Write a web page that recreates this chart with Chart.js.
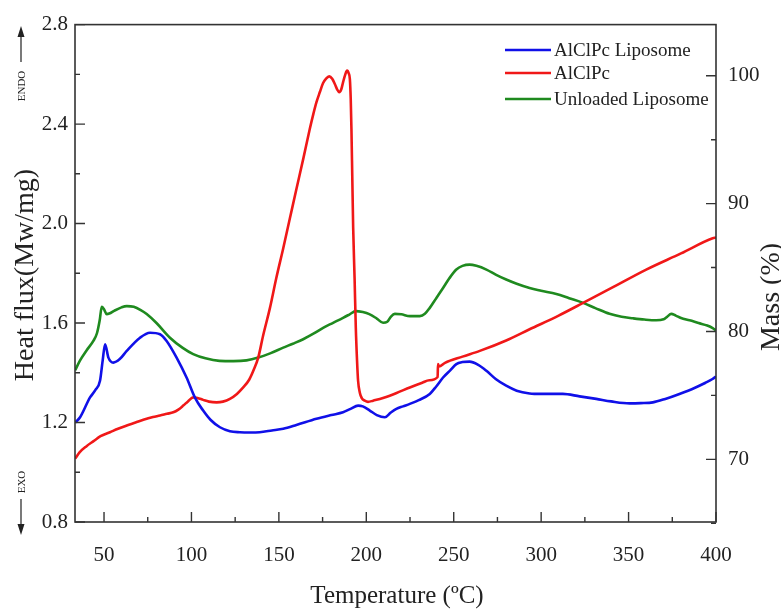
<!DOCTYPE html>
<html>
<head>
<meta charset="utf-8">
<script src="https://cdn.jsdelivr.net/npm/chart.js@4"></script>
<style>
  html, body { margin: 0; padding: 0; background: #fff; }
</style>
</head>
<body>
<canvas id="dscChart" width="781" height="609"></canvas>
<script>
// temperatures (ºC) and heat flux (Mw/mg)
const liposomeT = [33.5, 36.3, 42, 45, 47.7, 49.2, 50.6, 52.5, 55.3, 59, 63, 70.6, 76.3, 82, 85.8, 91.5, 97.2, 102, 106.7, 111, 116.3, 122, 127.7, 133.4, 139, 146, 152.5, 160, 171.5, 180, 186.7, 191, 195.3, 198, 202, 206, 210.6, 214, 217.2, 221, 224.9, 230, 236.3, 240, 243.9, 248, 251.5, 255, 259.1, 264, 268.7, 274, 280, 286, 293.4, 300, 312.4, 322, 331.5, 340, 350.6, 357, 363.9, 371, 379.1, 388, 394, 398, 400];
const liposomeV = [1.20, 1.221, 1.301, 1.33, 1.368, 1.448, 1.515, 1.461, 1.441, 1.455, 1.488, 1.541, 1.561, 1.555, 1.528, 1.461, 1.381, 1.30, 1.248, 1.21, 1.181, 1.165, 1.161, 1.16, 1.161, 1.168, 1.175, 1.19, 1.215, 1.23, 1.241, 1.255, 1.268, 1.265, 1.248, 1.23, 1.221, 1.24, 1.255, 1.265, 1.275, 1.29, 1.315, 1.345, 1.381, 1.41, 1.435, 1.443, 1.445, 1.432, 1.408, 1.375, 1.348, 1.328, 1.317, 1.315, 1.315, 1.305, 1.295, 1.285, 1.277, 1.278, 1.281, 1.295, 1.315, 1.34, 1.36, 1.375, 1.385];

const alclpcT = [33.5, 36, 40, 44, 48, 53.4, 58, 63, 68, 72.5, 78, 82, 86, 89.6, 92.5, 95.3, 98, 101, 103.5, 106.7, 110, 114.4, 118, 122, 126, 129.6, 133, 135.5, 138.2, 141, 144.9, 148.5, 152.5, 156.3, 160.1, 164, 167.7, 169.7, 171.5, 173.5, 175.3, 177, 178.8, 180.5, 182, 183.3, 184.5, 185.7, 186.7, 188, 189, 189.9, 190.6, 191.1, 191.5, 192, 192.5, 193.3, 194, 194.7, 195.3, 196.3, 197.5, 199.1, 201, 203.9, 210, 217, 224.9, 232, 236, 240.8, 241, 241.6, 245, 255, 264.9, 280, 293.4, 310, 324, 340, 360.1, 380, 398.1, 400];
const alclpcV = [1.055, 1.08, 1.105, 1.125, 1.145, 1.161, 1.175, 1.188, 1.20, 1.211, 1.222, 1.228, 1.235, 1.241, 1.252, 1.268, 1.285, 1.301, 1.299, 1.291, 1.284, 1.281, 1.284, 1.295, 1.315, 1.341, 1.372, 1.41, 1.461, 1.55, 1.661, 1.78, 1.901, 2.021, 2.141, 2.262, 2.381, 2.44, 2.488, 2.53, 2.565, 2.583, 2.592, 2.582, 2.561, 2.54, 2.528, 2.54, 2.568, 2.60, 2.615, 2.605, 2.581, 2.50, 2.381, 2.18, 1.981, 1.78, 1.581, 1.45, 1.368, 1.32, 1.297, 1.288, 1.283, 1.288, 1.30, 1.318, 1.341, 1.36, 1.37, 1.383, 1.435, 1.425, 1.44, 1.465, 1.488, 1.53, 1.575, 1.63, 1.681, 1.74, 1.815, 1.88, 1.941, 1.944];

const unloadedT = [33.5, 36.3, 40, 43.9, 46, 47.5, 48.7, 50, 51.5, 53, 56, 60, 63, 67, 71, 74.4, 80, 87.7, 95, 101, 108, 116, 124, 131.5, 138.2, 145, 152.5, 158, 163.9, 170, 175.3, 181, 186.7, 190.5, 194, 198, 201.7, 206, 209.6, 212, 214, 216.3, 220, 224.9, 230.6, 233.5, 236.3, 240, 243.9, 247.5, 251.5, 255, 259.1, 263, 268.7, 274, 280, 286, 293.4, 300, 308.7, 316, 324, 331, 339.1, 346, 352.5, 359, 365.8, 370, 372, 374.4, 377, 380, 384.9, 390, 395, 398.1, 400];
const unloadedV = [1.41, 1.45, 1.49, 1.528, 1.56, 1.61, 1.665, 1.655, 1.636, 1.638, 1.65, 1.663, 1.668, 1.665, 1.652, 1.636, 1.60, 1.541, 1.50, 1.475, 1.458, 1.448, 1.447, 1.45, 1.461, 1.478, 1.501, 1.517, 1.535, 1.558, 1.581, 1.601, 1.621, 1.635, 1.648, 1.644, 1.636, 1.618, 1.601, 1.605, 1.625, 1.637, 1.635, 1.628, 1.628, 1.637, 1.661, 1.70, 1.741, 1.78, 1.815, 1.83, 1.835, 1.83, 1.815, 1.795, 1.775, 1.758, 1.741, 1.73, 1.717, 1.70, 1.681, 1.66, 1.637, 1.625, 1.619, 1.614, 1.611, 1.615, 1.625, 1.637, 1.63, 1.62, 1.611, 1.60, 1.59, 1.58, 1.57];

const seriesLabels = ['AlClPc Liposome', 'AlClPc', 'Unloaded Liposome'];
const seriesColors = ['#1010e8', '#f01818', '#1f8a1f'];

const xTicks = [50, 100, 150, 200, 250, 300, 350, 400];
const heatTicks = [0.8, 1.2, 1.6, 2.0, 2.4, 2.8];
const massTicks = [70, 80, 90, 100];

const serif = '"Liberation Serif", "DejaVu Serif", serif';
const ink = '#222';

function toPoints(xs, ys) {
  return xs.map((x, i) => ({ x: x, y: ys[i] }));
}

// frame, inward ticks, titles, ENDO/EXO marks and legend
const decorations = {
  id: 'decorations',
  afterDraw(chart) {
    const ctx = chart.ctx;
    const a = chart.chartArea;
    const sx = chart.scales.x, sy = chart.scales.y, sm = chart.scales.y2;
    ctx.save();
    ctx.strokeStyle = '#333';
    ctx.lineWidth = 1.6;
    ctx.strokeRect(a.left, a.top, a.right - a.left, a.bottom - a.top);

    ctx.lineWidth = 1.4;
    ctx.beginPath();
    for (let v = 50; v <= 400; v += 25) {
      const px = sx.getPixelForValue(v);
      const len = v % 50 === 0 ? 10 : 5;
      ctx.moveTo(px, a.bottom); ctx.lineTo(px, a.bottom - len);
    }
    for (let v = 0.8; v <= 2.81; v += 0.2) {
      const py = sy.getPixelForValue(v);
      const major = Math.abs(Math.round(v * 10) % 4) === 0;
      ctx.moveTo(a.left, py); ctx.lineTo(a.left + (major ? 10 : 5), py);
    }
    for (let v = 65; v <= 100; v += 5) {
      const py = sm.getPixelForValue(v);
      ctx.moveTo(a.right, py); ctx.lineTo(a.right - (v % 10 === 0 ? 10 : 5), py);
    }
    ctx.stroke();

    ctx.fillStyle = ink;
    ctx.textAlign = 'center';
    ctx.textBaseline = 'middle';
    ctx.font = '25px ' + serif;
    ctx.fillText('Temperature (ºC)', 397, 596);

    ctx.font = '28px ' + serif;
    ctx.save();
    ctx.translate(26, 275);
    ctx.rotate(-Math.PI / 2);
    ctx.fillText('Heat flux(Mw/mg)', 0, 0);
    ctx.restore();

    ctx.save();
    ctx.translate(772, 297);
    ctx.rotate(-Math.PI / 2);
    ctx.fillText('Mass (%)', 0, 0);
    ctx.restore();

    // ENDO / EXO
    ctx.font = '11px ' + serif;
    ctx.save();
    ctx.translate(22, 86);
    ctx.rotate(-Math.PI / 2);
    ctx.fillText('ENDO', 0, 0);
    ctx.restore();
    ctx.save();
    ctx.translate(22, 482);
    ctx.rotate(-Math.PI / 2);
    ctx.fillText('EXO', 0, 0);
    ctx.restore();

    ctx.strokeStyle = ink;
    ctx.lineWidth = 1.2;
    ctx.beginPath();
    ctx.moveTo(21, 62); ctx.lineTo(21, 34);
    ctx.moveTo(21, 499); ctx.lineTo(21, 527);
    ctx.stroke();
    ctx.beginPath();
    ctx.moveTo(21, 26); ctx.lineTo(17.5, 37); ctx.lineTo(24.5, 37); ctx.closePath();
    ctx.moveTo(21, 535); ctx.lineTo(17.5, 524); ctx.lineTo(24.5, 524); ctx.closePath();
    ctx.fill();

    // legend
    const rows = [50, 73, 99];
    ctx.font = '19px ' + serif;
    ctx.textAlign = 'left';
    chart.data.datasets.forEach((ds, i) => {
      ctx.strokeStyle = ds.borderColor;
      ctx.lineWidth = 2.6;
      ctx.beginPath();
      ctx.moveTo(505, rows[i]); ctx.lineTo(551, rows[i]);
      ctx.stroke();
      ctx.fillStyle = ink;
      ctx.fillText(ds.label, 554, rows[i] + 1);
    });
    ctx.restore();
  }
};

const ctx = document.getElementById('dscChart').getContext('2d');

new Chart(ctx, {
  type: 'line',
  data: {
    datasets: [
      { label: seriesLabels[0], data: toPoints(liposomeT, liposomeV), borderColor: seriesColors[0] },
      { label: seriesLabels[1], data: toPoints(alclpcT, alclpcV), borderColor: seriesColors[1] },
      { label: seriesLabels[2], data: toPoints(unloadedT, unloadedV), borderColor: seriesColors[2] }
    ]
  },
  options: {
    responsive: false,
    animation: false,
    devicePixelRatio: 1,
    layout: { padding: { top: 22, right: 0, left: 0, bottom: 0 } },
    elements: {
      point: { radius: 0 },
      line: { borderWidth: 2.6, cubicInterpolationMode: 'monotone', fill: false }
    },
    plugins: {
      legend: { display: false },
      tooltip: { enabled: false }
    },
    scales: {
      x: {
        type: 'linear',
        min: 33.4,
        max: 400,
        grid: { display: false, drawTicks: false },
        border: { display: false },
        ticks: { font: { family: serif, size: 21 }, color: ink, padding: 21 },
        afterBuildTicks: s => { s.ticks = xTicks.map(v => ({ value: v })); },
        afterFit: s => { s.height = 87; }
      },
      y: {
        type: 'linear',
        position: 'left',
        min: 0.8,
        max: 2.8,
        grid: { display: false, drawTicks: false },
        border: { display: false },
        ticks: { font: { family: serif, size: 21 }, color: ink, padding: 7, callback: v => v.toFixed(1) },
        afterBuildTicks: s => { s.ticks = heatTicks.map(v => ({ value: v })); },
        afterFit: s => { s.width = 75; }
      },
      y2: {
        type: 'linear',
        position: 'right',
        min: 65.1,
        max: 104,
        grid: { display: false, drawTicks: false },
        border: { display: false },
        ticks: { font: { family: serif, size: 21 }, color: ink, padding: 12 },
        afterBuildTicks: s => { s.ticks = massTicks.map(v => ({ value: v })); },
        afterFit: s => { s.width = 65; }
      }
    }
  },
  plugins: [decorations]
});
</script>
</body>
</html>
